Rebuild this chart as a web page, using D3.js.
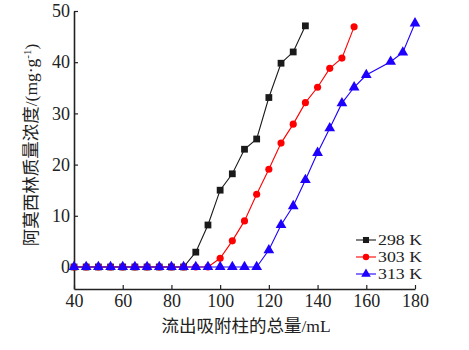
<!DOCTYPE html>
<html><head><meta charset="utf-8">
<script src="https://cdn.jsdelivr.net/npm/d3@7"></script>
<style>
body{margin:0;background:#fff;}
text{font-family:"Liberation Serif","Times New Roman","Noto Sans CJK SC",serif;}
</style></head>
<body><svg id="c" width="469" height="350"></svg>
<script>
const xTicks=[40,60,80,100,120,140,160,180];
const yTicks=[0,10,20,30,40,50];
const seriesNames=["298 K","303 K","313 K"];
const x298=[40,45,50,55,60,65,70,75,80,85,90,95,100,105,110,115,120,125,130,135];
const v298=[0,0,0,0,0,0,0,0,0,0,2.9,8.2,15,18.2,23,25,33.1,39.8,42,47.1];
const x303=[40,45,50,55,60,65,70,75,80,85,90,95,100,105,110,115,120,125,130,135,140,145,150,155];
const v303=[0,0,0,0,0,0,0,0,0,0,0,0,1.7,5.1,9.0,14.2,19.1,24.2,27.9,32.1,35.1,38.8,40.8,46.9];
const x313=[40,45,50,55,60,65,70,75,80,85,90,95,100,105,110,115,120,125,130,135,140,145,150,155,160,170,175,180];
const v313=[0,0,0,0,0,0,0,0,0,0,0,0,0,0,0,0,3.3,8.2,11.9,17.0,22.3,27.1,32.0,35.1,37.5,40.1,41.9,47.6];
const xLabel="流出吸附柱的总量/mL";
const yLabelMain="阿莫西林质量浓度/(mg·g";
const yLabelSup="-1";
const yLabelEnd=")";

const svg=d3.select("#c");
const x=d3.scaleLinear().domain([40,180]).range([74,415]);
const y=d3.scaleLinear().domain([-4.3,50]).range([289,11]);

const series=[
 {name:seriesNames[0],xs:x298,vs:v298,color:"#1a1a1a",sym:d3.symbolSquare,size:46},
 {name:seriesNames[1],xs:x303,vs:v303,color:"#ff0000",sym:d3.symbolCircle,size:40},
 {name:seriesNames[2],xs:x313,vs:v313,color:"#1e00ff",sym:d3.symbolTriangle,size:50}
];

const gx=svg.append("g").attr("transform","translate(0,289)")
 .call(d3.axisBottom(x).tickValues(xTicks).tickSizeInner(-4).tickSizeOuter(0).tickPadding(5));
const gy=svg.append("g").attr("transform","translate(74,0)")
 .call(d3.axisLeft(y).tickValues(yTicks).tickSizeInner(-4).tickSizeOuter(0).tickPadding(4));
[gx,gy].forEach(g=>{
 g.select(".domain").attr("stroke","#222").attr("stroke-width",1.6);
 g.selectAll(".tick line").attr("stroke","#222").attr("stroke-width",1.2);
 g.selectAll(".tick text").attr("font-size",18).attr("fill","#222")
  .style("font-family","'Liberation Serif',serif");
});

const line=d3.line().x(d=>x(d[0])).y(d=>y(d[1]));
series.forEach(s=>{
 const pts=s.xs.map((v,i)=>[v,s.vs[i]]);
 svg.append("path").datum(pts).attr("d",line).attr("fill","none")
  .attr("stroke",s.color).attr("stroke-width",1.1);
 svg.append("g").selectAll("path").data(pts).join("path")
  .attr("transform",d=>`translate(${x(d[0])},${y(d[1])})`)
  .attr("d",d3.symbol().type(s.sym).size(s.size)).attr("fill",s.color);
});

// legend
const lg=svg.append("g");
series.forEach((s,i)=>{
 const yy=240+i*17;
 lg.append("line").attr("x1",356).attr("x2",376).attr("y1",yy).attr("y2",yy)
  .attr("stroke",s.color).attr("stroke-width",1.1);
 lg.append("path").attr("transform",`translate(366,${yy})`)
  .attr("d",d3.symbol().type(s.sym).size(s.size*0.8)).attr("fill",s.color);
 lg.append("text").attr("x",378).attr("y",yy).attr("dy","0.35em")
  .attr("font-size",14.5).attr("textLength",44).attr("lengthAdjust","spacingAndGlyphs")
  .attr("fill","#222").text(s.name);
});

svg.append("text").attr("x",(162+330)/2).attr("y",332).attr("text-anchor","middle")
 .attr("font-size",17.5).attr("fill","#222").text(xLabel);

const yl=svg.append("text").attr("transform","translate(37,145) rotate(-90)")
 .attr("text-anchor","middle").attr("font-size",17.5).attr("fill","#222");
yl.append("tspan").text(yLabelMain);
yl.append("tspan").attr("dy",-6).attr("font-size",11).text(yLabelSup);
yl.append("tspan").attr("dy",6).text(yLabelEnd);
</script></body></html>
